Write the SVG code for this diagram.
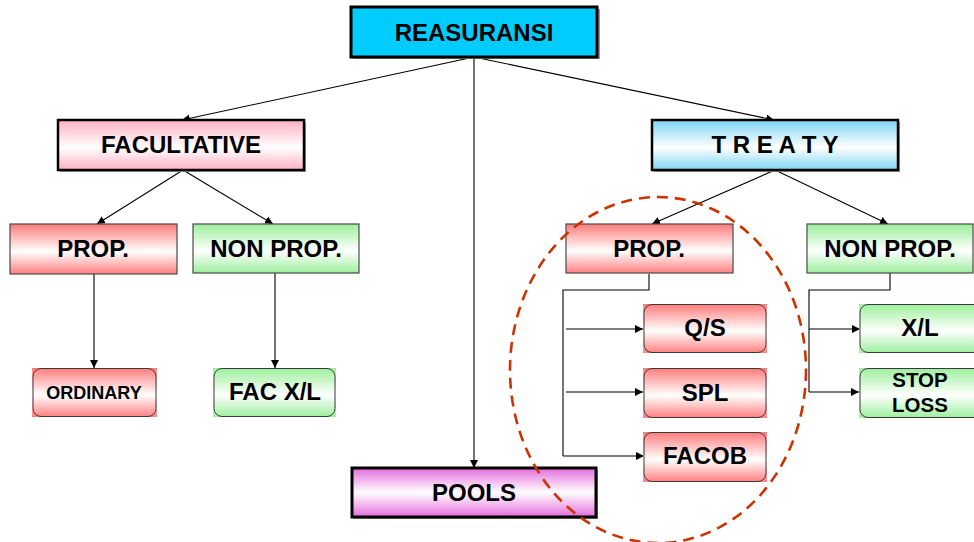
<svg xmlns="http://www.w3.org/2000/svg" width="974" height="542" viewBox="0 0 974 542">
<defs>
<linearGradient id="gRed" x1="0" y1="0" x2="0" y2="1"><stop offset="0" stop-color="#ff7b7b"/><stop offset="0.55" stop-color="#ffffff"/><stop offset="1" stop-color="#ff7f7f"/></linearGradient>
<linearGradient id="gGreen" x1="0" y1="0" x2="0" y2="1"><stop offset="0" stop-color="#9cef9c"/><stop offset="0.55" stop-color="#ffffff"/><stop offset="1" stop-color="#9cef9c"/></linearGradient>
<linearGradient id="gPink" x1="0" y1="0" x2="0" y2="1"><stop offset="0" stop-color="#ffb0c3"/><stop offset="0.55" stop-color="#ffffff"/><stop offset="1" stop-color="#ffb0c3"/></linearGradient>
<linearGradient id="gBlue" x1="0" y1="0" x2="0" y2="1"><stop offset="0" stop-color="#7dd5f5"/><stop offset="0.55" stop-color="#ffffff"/><stop offset="1" stop-color="#7dd5f5"/></linearGradient>
<linearGradient id="gMag" x1="0" y1="0" x2="0" y2="1"><stop offset="0" stop-color="#e46cdc"/><stop offset="0.5" stop-color="#ffffff"/><stop offset="1" stop-color="#e46cdc"/></linearGradient>
<marker id="arr" viewBox="0 0 10 10" refX="10" refY="5" markerWidth="8" markerHeight="8" markerUnits="userSpaceOnUse" orient="auto"><path d="M0,0 L10,5 L0,10 Z" fill="#000"/></marker>
</defs>
<style>
text{font-family:"Liberation Sans",Arial,sans-serif;font-weight:bold;fill:#000;text-anchor:middle}
.t{font-size:24px}
.main{stroke:#000;stroke-width:3}
.shadow{fill:#9a9a9a}
.sq{stroke:#4a4a4a;stroke-width:1.2}
.rd{stroke:#3a3a3a;stroke-width:1;fill:none}
.c{fill:none;stroke:#000;stroke-width:1.1}
.ca{fill:none;stroke:#000;stroke-width:1.1;marker-end:url(#arr)}
</style>
<rect width="974" height="542" fill="#fff"/>
<g id="connectors">
<line class="ca" x1="474" y1="57" x2="182" y2="120"/>
<line class="ca" x1="474" y1="57" x2="774" y2="120"/>
<line class="ca" x1="474" y1="57" x2="474" y2="468"/>
<line class="ca" x1="183" y1="170" x2="97" y2="224"/>
<line class="ca" x1="183" y1="170" x2="273" y2="224"/>
<line class="ca" x1="775" y1="170" x2="652" y2="224"/>
<line class="ca" x1="775" y1="170" x2="888" y2="224"/>
<line class="ca" x1="94" y1="274" x2="94" y2="368"/>
<line class="ca" x1="275" y1="273" x2="275" y2="368"/>
<polyline class="c" points="649,274 649,290 563,290 563,456"/>
<line class="ca" x1="566" y1="329" x2="643" y2="329"/>
<line class="ca" x1="566" y1="392" x2="643" y2="392"/>
<line class="ca" x1="563" y1="456" x2="644" y2="456"/>
<polyline class="c" points="890,273 890,290 809,290 809,392"/>
<line class="ca" x1="809" y1="329" x2="860" y2="329"/>
<line class="ca" x1="809" y1="392" x2="859" y2="392"/>
</g>
<g id="reasuransi">
<rect class="shadow" x="353" y="9" width="247" height="50"/>
<rect class="main" x="351" y="7" width="246" height="50" fill="#00ccff"/>
<text class="t" x="474" y="41">REASURANSI</text>
</g>
<g id="facultative">
<rect class="shadow" x="60" y="122" width="246" height="50"/>
<rect class="main" x="58" y="120" width="246" height="50" fill="url(#gPink)" style="stroke-width:2.5"/>
<text class="t" x="181" y="153">FACULTATIVE</text>
</g>
<g id="treaty">
<rect class="shadow" x="654" y="122" width="246" height="50"/>
<rect class="main" x="652" y="120" width="246" height="50" fill="url(#gBlue)" style="stroke-width:2.5"/>
<text class="t" x="775" y="153">T R E A T Y</text>
</g>
<g id="pools">
<rect class="shadow" x="354" y="470" width="244" height="49"/>
<rect class="main" x="352" y="468" width="244" height="49" fill="url(#gMag)"/>
<text class="t" x="474" y="501">POOLS</text>
</g>
<g id="fac-prop">
<rect class="sq" x="10" y="224" width="167" height="50" fill="url(#gRed)"/>
<text class="t" x="93" y="257">PROP.</text>
</g>
<g id="fac-nonprop">
<rect class="sq" x="193" y="224" width="166" height="49" fill="url(#gGreen)"/>
<text class="t" x="276" y="257">NON PROP.</text>
</g>
<g id="treaty-prop">
<rect class="sq" x="566" y="224" width="167" height="49" fill="url(#gRed)"/>
<text class="t" x="649" y="257">PROP.</text>
</g>
<g id="treaty-nonprop">
<rect class="sq" x="807" y="224" width="166" height="49" fill="url(#gGreen)"/>
<text class="t" x="890" y="257">NON PROP.</text>
</g>
<g id="ordinary">
<rect x="32" y="368" width="125" height="49" fill="url(#gRed)"/>
<rect class="rd" x="33" y="368.5" width="123" height="48" rx="8"/>
<text x="94" y="399" style="font-size:18px">ORDINARY</text>
</g>
<g id="facxl">
<rect x="213" y="368" width="123" height="49" fill="url(#gGreen)"/>
<rect class="rd" x="214" y="368.5" width="121" height="48" rx="8"/>
<text class="t" x="275" y="400">FAC X/L</text>
</g>
<g id="qs">
<rect x="643" y="304" width="124" height="49" fill="url(#gRed)"/>
<rect class="rd" x="644" y="304.5" width="122" height="48" rx="8"/>
<text class="t" x="705" y="336">Q/S</text>
</g>
<g id="spl">
<rect x="643" y="368" width="124" height="50" fill="url(#gRed)"/>
<rect class="rd" x="644" y="368.5" width="122" height="49" rx="8"/>
<text class="t" x="705" y="401">SPL</text>
</g>
<g id="facob">
<rect x="643" y="432" width="124" height="50" fill="url(#gRed)"/>
<rect class="rd" x="644" y="432.5" width="122" height="49" rx="8"/>
<text class="t" x="705" y="464">FACOB</text>
</g>
<g id="xl">
<rect x="859" y="304" width="124" height="49" fill="url(#gGreen)"/>
<rect class="rd" x="860" y="304.5" width="122" height="48" rx="8"/>
<text class="t" x="920" y="336">X/L</text>
</g>
<g id="stoploss">
<rect x="859" y="368" width="124" height="50" fill="url(#gGreen)"/>
<rect class="rd" x="860" y="368.5" width="122" height="49" rx="8"/>
<text x="920" y="387" style="font-size:20.5px">STOP</text>
<text x="920" y="412" style="font-size:20.5px">LOSS</text>
</g>
<ellipse cx="658" cy="370" rx="148" ry="173" fill="none" stroke="#cc3300" stroke-width="2.6" stroke-dasharray="11,7"/>
</svg>
